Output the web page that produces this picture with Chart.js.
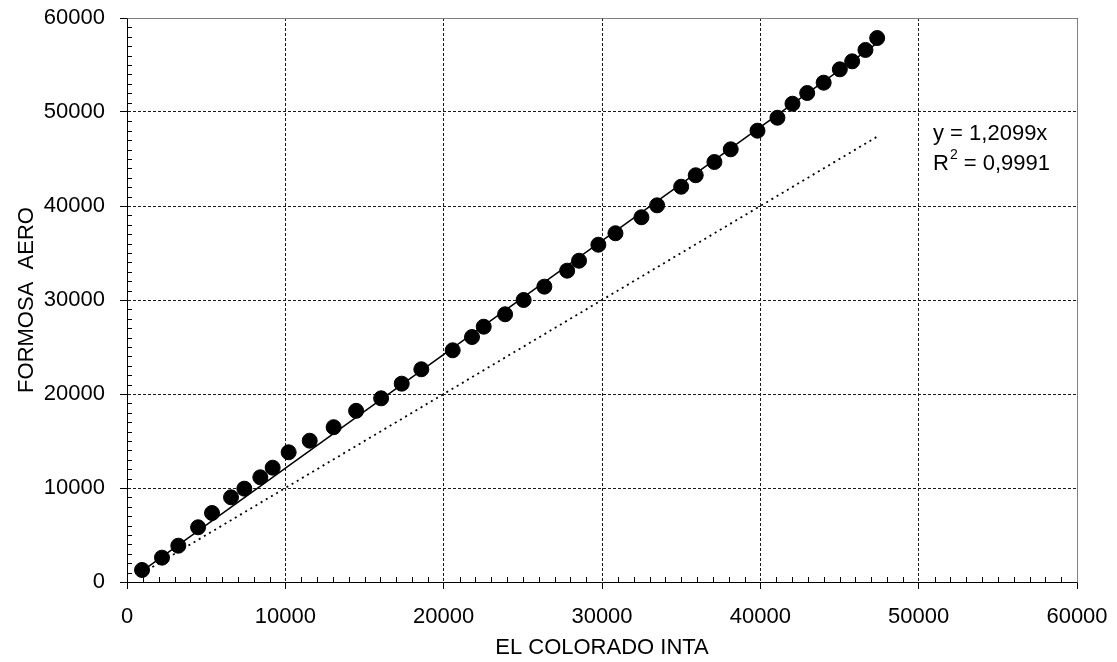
<!DOCTYPE html>
<html>
<head>
<meta charset="utf-8">
<script src="https://cdn.jsdelivr.net/npm/chart.js@4/dist/chart.umd.min.js"></script>
<style>
  html, body { margin: 0; padding: 0; background: #fff; }
  #wrap { width: 1117px; height: 662px; }
</style>
</head>
<body>
<div id="wrap"><canvas id="myChart" width="1117" height="662"></canvas></div>
<script>
// values
const coloradoInta = [950, 2210, 3240, 4490, 5370, 6570, 7410, 8420, 9200, 10210,
    11540, 13050, 14470, 16050, 17350, 18590, 20570, 21790, 22530, 23880,
    25050, 26360, 27800, 28550, 29770, 30850, 32490, 33480, 35000, 35920,
    37100, 38130, 39820, 41080, 42030, 42960, 44000, 45020, 45800, 46640, 47380];
const formosaAero = [1280, 2590, 3860, 5820, 7340, 9010, 9930, 11140, 12160, 13800,
    15030, 16470, 18210, 19540, 21100, 22630, 24650, 26060, 27160, 28480,
    30000, 31420, 33120, 34180, 35880, 37100, 38800, 40070, 42050, 43270,
    44680, 46030, 48010, 49390, 50880, 52020, 53120, 54540, 55390, 56600, 57870];

const slope = 1.2099;
const rSquared = '0,9991';
const axisTicks = [0, 10000, 20000, 30000, 40000, 50000, 60000];

const xMin = Math.min(...coloradoInta);
const xMax = Math.max(...coloradoInta);

const points = coloradoInta.map((x, i) => ({ x: x, y: formosaAero[i] }));
const trendLine = [{ x: xMin, y: slope * xMin }, { x: xMax, y: slope * xMax }];
const identityLine = [{ x: xMin, y: xMin }, { x: xMax, y: xMax }];

const FONT = "'Liberation Sans', Arial, sans-serif";

// frame, minor ticks and the trendline label
const extras = {
    id: 'extras',
    beforeDatasetsDraw(chart) {
        const ctx = chart.ctx;
        const a = chart.chartArea;
        const xs = chart.scales.x, ys = chart.scales.y;
        ctx.save();
        ctx.strokeStyle = '#808080';
        ctx.lineWidth = 1;
        ctx.beginPath();
        ctx.moveTo(Math.round(a.left) + 0.5, Math.round(a.top) + 0.5);
        ctx.lineTo(Math.round(a.right) + 0.5, Math.round(a.top) + 0.5);
        ctx.lineTo(Math.round(a.right) + 0.5, Math.round(a.bottom) + 0.5);
        ctx.stroke();

        ctx.strokeStyle = '#000';
        ctx.beginPath();
        for (let v = 1000; v < 60000; v += 1000) {
            if (v % 10000 === 0) continue;
            const px = Math.round(xs.getPixelForValue(v)) + 0.5;
            ctx.moveTo(px, a.bottom);
            ctx.lineTo(px, a.bottom - 5);
            const py = Math.round(ys.getPixelForValue(v)) + 0.5;
            ctx.moveTo(a.left, py);
            ctx.lineTo(a.left + 5, py);
        }
        ctx.stroke();
        ctx.restore();
    },
    afterDraw(chart) {
        const ctx = chart.ctx;
        ctx.save();
        ctx.fillStyle = '#000';
        ctx.textBaseline = 'middle';
        ctx.font = '22px ' + FONT;
        const lx = 933;
        ctx.fillText('y = ' + String(slope).replace('.', ',') + 'x', lx, 134);
        ctx.fillText('R', lx, 164);
        const rw = ctx.measureText('R').width;
        ctx.font = '14px ' + FONT;
        ctx.fillText('2', lx + rw + 1, 155);
        const sw = ctx.measureText('2').width;
        ctx.font = '22px ' + FONT;
        ctx.fillText(' = ' + rSquared, lx + rw + sw + 1, 164);
        ctx.restore();
    }
};

const axisCommon = {
    type: 'linear',
    min: 0,
    max: 60000,
    afterBuildTicks(scale) {
        scale.ticks = axisTicks.map(v => ({ value: v }));
    },
    grid: {
        color: '#1a1a1a',
        lineWidth: 1,
        tickLength: 7,
        tickColor: '#000',
        tickWidth: 1
    },
    border: {
        display: true,
        color: '#000',
        width: 1,
        dash: [3, 2]
    }
};

const config = {
    type: 'scatter',
    data: {
        datasets: [
            {
                data: identityLine,
                showLine: true,
                borderColor: '#000',
                borderWidth: 1.8,
                borderDash: [2, 4],
                pointRadius: 0
            },
            {
                data: trendLine,
                showLine: true,
                borderColor: '#000',
                borderWidth: 1.5,
                pointRadius: 0
            },
            {
                data: points,
                backgroundColor: '#000',
                borderColor: '#000',
                pointRadius: 7.5,
                pointHoverRadius: 7.5
            }
        ]
    },
    options: {
        responsive: false,
        animation: false,
        layout: { padding: { top: 18, right: 40, left: 0, bottom: 0 } },
        plugins: {
            legend: { display: false },
            tooltip: { enabled: false },
            title: { display: false }
        },
        scales: {
            x: {
                ...axisCommon,
                position: 'bottom',
                afterFit(scale) {
                    scale.height = 80;
                    scale.paddingLeft = 0;
                    scale.paddingRight = 0;
                },
                ticks: {
                    color: '#000',
                    padding: 15,
                    maxRotation: 0,
                    font: { family: FONT, size: 22 },
                    callback: v => String(v)
                },
                title: {
                    display: true,
                    text: 'EL COLORADO INTA',
                    color: '#000',
                    font: { family: FONT, size: 22 },
                    padding: { top: 0, bottom: 1 }
                }
            },
            y: {
                ...axisCommon,
                position: 'left',
                afterFit(scale) {
                    scale.width = 127;
                    scale.paddingTop = 0;
                    scale.paddingBottom = 0;
                },
                ticks: {
                    color: '#000',
                    padding: 15,
                    font: { family: FONT, size: 22 },
                    callback: v => String(v)
                },
                title: {
                    display: true,
                    text: 'FORMOSA  AERO',
                    color: '#000',
                    font: { family: FONT, size: 22 },
                    padding: { top: 14, bottom: 0 }
                }
            }
        }
    },
    plugins: [extras]
};

const ctx = document.getElementById('myChart');
let myChart = new Chart(ctx, config);
</script>
</body>
</html>
